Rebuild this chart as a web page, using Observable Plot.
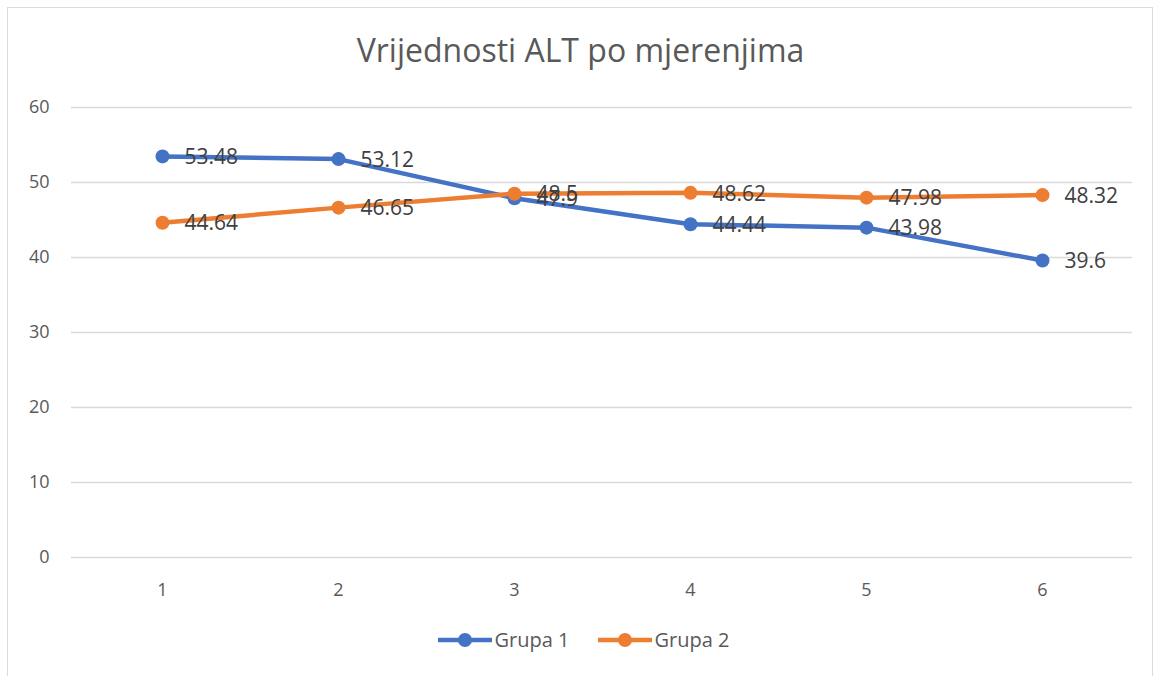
<!DOCTYPE html>
<html>
<head>
<meta charset="utf-8">
<script src="https://cdn.jsdelivr.net/npm/d3@7"></script>
<script src="https://cdn.jsdelivr.net/npm/@observablehq/plot@0.6"></script>
<style>
  body { margin: 0; background: #fff; font-family: "Open Sans", sans-serif; }
  #wrap { position: relative; width: 1155px; height: 676px; overflow: hidden; }
  #frame { position: absolute; left: 7px; top: 7px; width: 1146px; height: 700px; border: 1px solid #dcdcdc; box-sizing: border-box; }
  #title { position: absolute; left: 0; width: 1155px; top: 28px; text-align: center; font-size: 32px; color: #595959; margin-left: 3px; }
  #chart { position: absolute; left: 0; top: 80px; }
  #legend { position: absolute; left: 0; width: 1155px; top: 626px; display: flex; justify-content: center; gap: 26px; font-size: 20px; color: #595959; margin-left: 5px;}
  .item { display: flex; align-items: center; }
  .item svg { margin-right: 1px; }
</style>
</head>
<body>
<div id="wrap">
  <div id="frame"></div>
  <div id="title">Vrijednosti ALT po mjerenjima</div>
  <div id="chart"></div>
  <div id="legend"></div>
</div>
<script>
const measurements = [1, 2, 3, 4, 5, 6];
const seriesNames = ["Grupa 1", "Grupa 2"];
const grupa1 = [53.48, 53.12, 47.9, 44.44, 43.98, 39.6];
const grupa2 = [44.64, 46.65, 48.5, 48.62, 47.98, 48.32];
const yTicks = [0, 10, 20, 30, 40, 50, 60];
const colors = ["#4472C4", "#ED7D31"];

const data = [];
measurements.forEach((m, i) => {
  data.push({m, v: grupa1[i], s: seriesNames[0]});
});
measurements.forEach((m, i) => {
  data.push({m, v: grupa2[i], s: seriesNames[1]});
});

const chart = Plot.plot({
  width: 1155,
  height: 540,
  marginLeft: 71,
  marginRight: 23,
  marginTop: 27,
  marginBottom: 63,
  style: { fontFamily: "Open Sans, sans-serif", fontSize: "18px", color: "#595959", background: "transparent" },
  x: { type: "point", domain: measurements, padding: 0.5, label: null },
  y: { domain: [0, 60], ticks: yTicks, label: null },
  color: { domain: seriesNames, range: colors },
  marks: [
    Plot.gridY(yTicks, { stroke: "#d9d9d9", strokeOpacity: 1, strokeWidth: 1.5 }),
    Plot.axisY(yTicks, { tickSize: 0, tickPadding: 22, fontSize: 18, fill: "#595959" }),
    Plot.axisX(measurements, { tickSize: 0, tickPadding: 26, fontSize: 18, fill: "#595959" }),
    Plot.line(data, { x: "m", y: "v", z: "s", stroke: "s", strokeWidth: 4.5 }),
    Plot.dot(data, { x: "m", y: "v", fill: "s", r: 7 }),
    Plot.text(data, { x: "m", y: "v", text: d => String(d.v), textAnchor: "start", dx: 22, dy: 1, fill: "#404040", fontSize: 21 })
  ]
});
document.getElementById("chart").appendChild(chart);

const legend = document.getElementById("legend");
seriesNames.forEach((name, i) => {
  const item = document.createElement("div");
  item.className = "item";
  item.innerHTML = `<svg width="58" height="20"><line x1="2" y1="10" x2="56" y2="10" stroke="${colors[i]}" stroke-width="4.5"/><circle cx="29" cy="10" r="7" fill="${colors[i]}"/></svg><span>${name}</span>`;
  legend.appendChild(item);
});
</script>
</body>
</html>
